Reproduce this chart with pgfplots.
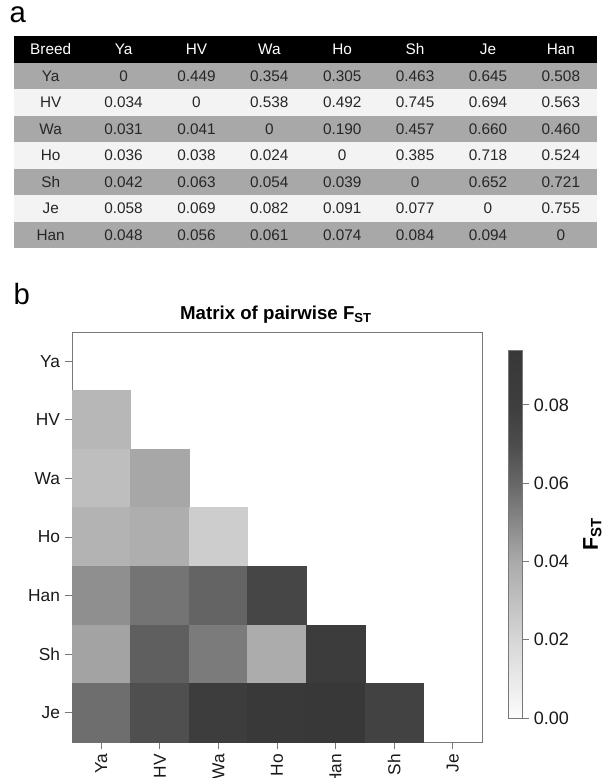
\documentclass[border=0pt]{standalone}
\usepackage[table]{xcolor}
\usepackage{fontspec}
\setmainfont{Liberation Sans}
\usepackage{pgfplots}
\usepackage{pgfplotstable}
\pgfplotsset{compat=1.18}

\definecolor{rowgray}{RGB}{168,168,168}
\definecolor{rowlight}{RGB}{243,243,243}
\definecolor{framegray}{RGB}{120,120,120}

% panel a: pairwise values (lower: Fst, upper: other distance)
\pgfplotstableread[col sep=comma]{
Breed,Ya,HV,Wa,Ho,Sh,Je,Han
Ya,0,0.449,0.354,0.305,0.463,0.645,0.508
HV,0.034,0,0.538,0.492,0.745,0.694,0.563
Wa,0.031,0.041,0,0.190,0.457,0.660,0.460
Ho,0.036,0.038,0.024,0,0.385,0.718,0.524
Sh,0.042,0.063,0.054,0.039,0,0.652,0.721
Je,0.058,0.069,0.082,0.091,0.077,0,0.755
Han,0.048,0.056,0.061,0.074,0.084,0.094,0
}\fsttable

% panel b: lower triangle, order Ya HV Wa Ho Han Sh Je
\pgfplotstableread{
col row fst
0 1 0.034
0 2 0.031
1 2 0.041
0 3 0.036
1 3 0.038
2 3 0.024
0 4 0.048
1 4 0.056
2 4 0.061
3 4 0.074
0 5 0.042
1 5 0.063
2 5 0.054
3 5 0.039
4 5 0.084
0 6 0.058
1 6 0.069
2 6 0.082
3 6 0.091
4 6 0.094
5 6 0.077
}\fstcells

\begin{document}
\begin{tikzpicture}
\useasboundingbox (0,0) rectangle (453pt,-583.5pt);

\node[anchor=base west, inner sep=0, font=\fontsize{22}{24}\selectfont] at (7pt,-17pt) {a};
\node[anchor=north west, inner sep=0] at (10.5pt,-27pt) {%
  \fontsize{11.5}{13}\selectfont\setlength{\tabcolsep}{0pt}%
  \renewcommand{\arraystretch}{1.53}\color{black!85}%
  \pgfplotstabletypeset[
    string type,
    column type={>{\centering\arraybackslash}p{54.66pt}},
    assign column name/.style={/pgfplots/table/column name={\textcolor{white}{#1}}},
    every head row/.style={before row={\rowcolor{black}}},
    every even row/.style={before row={\rowcolor{rowgray}}},
    every odd row/.style={before row={\rowcolor{rowlight}}},
  ]\fsttable};

\node[anchor=base west, inner sep=0, font=\fontsize{22}{24}\selectfont] at (10pt,-228pt) {b};
\node[font=\fontsize{14}{16}\selectfont\bfseries] at (207pt,-236pt) {Matrix of pairwise F\textsubscript{ST}};

\begin{axis}[
  at={(54pt,-556.5pt)}, anchor=south west,
  scale only axis, width=307.5pt, height=307.5pt,
  xmin=-0.5, xmax=6.5, ymin=-0.5, ymax=6.5, y dir=reverse,
  xtick={0,...,6}, ytick={0,...,6},
  xticklabels={Ya,HV,Wa,Ho,Han,Sh,Je},
  yticklabels={Ya,HV,Wa,Ho,Han,Sh,Je},
  tick pos=left, tick align=outside, major tick length=5.5pt,
  tick style={draw=framegray, line width=0.6pt},
  axis line style={draw=framegray, line width=0.6pt},
  axis on top,
  tick label style={font=\fontsize{13}{15}\selectfont, text=black!90},
  xticklabel style={rotate=90, anchor=east},
  colormap={fst}{rgb255(0cm)=(252,252,252) rgb255(2cm)=(214,214,214)
    rgb255(4cm)=(170,170,170) rgb255(5cm)=(136,136,136) rgb255(6cm)=(103,103,103)
    rgb255(7cm)=(76,76,76) rgb255(8cm)=(62,62,62) rgb255(9.4cm)=(56,56,56)},
  point meta min=0, point meta max=0.094,
  colorbar,
  colorbar style={
    at={(parent axis.south east)}, anchor=south west, xshift=11.25pt, yshift=18pt,
    scale only axis, width=10.5pt, height=276pt,
    ytick={0,0.02,0.04,0.06,0.08},
    scaled y ticks=false,
    ytick pos=right, yticklabel pos=right, ytick align=outside,
    major tick length=5pt,
    tick style={draw=framegray, line width=0.6pt},
    axis line style={draw=framegray, line width=0.6pt},
    /pgf/number format/fixed,
    /pgf/number format/fixed zerofill,
    /pgf/number format/precision=2,
    /pgf/number format/assume math mode=true,
    yticklabel style={font=\fontsize{13.5}{15}\selectfont},
    ylabel={\textbf{F\textsubscript{ST}}},
    ylabel style={at={(axis description cs:6,0.5)}, anchor=center,
      font=\fontsize{16}{18}\selectfont},
  },
]
\addplot[scatter, only marks, mark=square*, mark size=21.96pt, point meta=explicit,
  scatter/use mapped color={draw=mapped color, fill=mapped color}]
  table[x=col, y=row, meta=fst] {\fstcells};
\end{axis}
\end{tikzpicture}
\end{document}
